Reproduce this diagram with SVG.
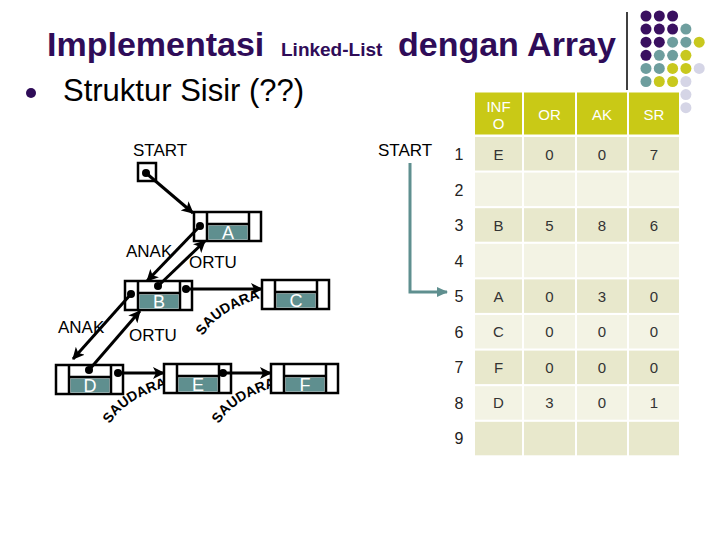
<svg xmlns="http://www.w3.org/2000/svg" width="720" height="540" viewBox="0 0 720 540">
<style>
  text { font-family: "Liberation Sans", Arial, sans-serif; }
  .title { font-weight: bold; fill: #2f0c58; }
  .lbl { font-size: 17px; fill: #000; }
  .sd { font-size: 14px; font-weight: bold; fill: #000; }
  .box { fill: #fff; stroke: #000; stroke-width: 2.5; }
  .div { stroke: #000; stroke-width: 2.5; }
  .val { fill: #5f8f8f; }
  .nl { font-size: 18px; fill: #fff; text-anchor: middle; }
  .con { stroke: #000; stroke-width: 3; fill: none; marker-end: url(#ah); }
  .dot { fill: #000; }
  .hd { fill: #c9c916; }
  .ro { fill: #e8e8cc; }
  .re { fill: #f3f3e4; }
  .ht { font-size: 15px; fill: #fff; text-anchor: middle; }
  .dt { font-size: 15px; fill: #333; text-anchor: middle; }
  .rn { font-size: 16px; fill: #222; text-anchor: middle; }
  .P { fill: #3a1060; } .T { fill: #6e9e9e; } .Y { fill: #c8c81e; } .L { fill: #d5d5e6; }
</style>
<defs>
  <marker id="ah" markerUnits="userSpaceOnUse" markerWidth="14" markerHeight="12" refX="11" refY="6" orient="auto">
    <path d="M0,0 L12,6 L0,12 L3,6 z" fill="#000"/>
  </marker>
  <marker id="aht" markerUnits="userSpaceOnUse" markerWidth="12" markerHeight="10" refX="10" refY="5" orient="auto">
    <path d="M0,0 L11,5 L0,10 z" fill="#5f8f8f"/>
  </marker>
  <path id="s1" d="M203,336 Q218,309 272,295"/>
  <path id="s2" d="M110,424 Q125,397 179,383"/>
  <path id="s3" d="M219,424 Q234,397 288,383"/>
</defs>

<!-- title -->
<text class="title" x="47" y="56" font-size="34">Implementasi</text>
<text class="title" x="281" y="56" font-size="19">Linked-List</text>
<text class="title" x="398" y="56" font-size="34">dengan Array</text>
<circle cx="31" cy="93" r="5" fill="#2f0c58"/>
<text x="63" y="101" font-size="31" fill="#000">Struktur Sisir (??)</text>

<!-- decoration -->
<line x1="627" y1="12" x2="627" y2="90" stroke="#000" stroke-width="1.5"/>
<g id="dots">
  <circle class="P" cx="646" cy="16" r="5.5"/><circle class="P" cx="659.3" cy="16" r="5.5"/><circle class="P" cx="672.6" cy="16" r="5.5"/>
  <circle class="P" cx="646" cy="29.1" r="5.5"/><circle class="P" cx="659.3" cy="29.1" r="5.5"/><circle class="P" cx="672.6" cy="29.1" r="5.5"/><circle class="T" cx="685.9" cy="29.1" r="5.5"/>
  <circle class="P" cx="646" cy="42.2" r="5.5"/><circle class="P" cx="659.3" cy="42.2" r="5.5"/><circle class="T" cx="672.6" cy="42.2" r="5.5"/><circle class="T" cx="685.9" cy="42.2" r="5.5"/><circle class="Y" cx="699.2" cy="42.2" r="5.5"/>
  <circle class="P" cx="646" cy="55.3" r="5.5"/><circle class="T" cx="659.3" cy="55.3" r="5.5"/><circle class="T" cx="672.6" cy="55.3" r="5.5"/><circle class="Y" cx="685.9" cy="55.3" r="5.5"/>
  <circle class="T" cx="646" cy="68.4" r="5.5"/><circle class="T" cx="659.3" cy="68.4" r="5.5"/><circle class="Y" cx="672.6" cy="68.4" r="5.5"/><circle class="Y" cx="685.9" cy="68.4" r="5.5"/><circle class="L" cx="699.2" cy="68.4" r="5.5"/>
  <circle class="T" cx="646" cy="81.5" r="5.5"/><circle class="Y" cx="659.3" cy="81.5" r="5.5"/><circle class="Y" cx="672.6" cy="81.5" r="5.5"/><circle class="L" cx="685.9" cy="81.5" r="5.5"/>
  <circle class="L" cx="685.9" cy="94.6" r="5.5"/>
  <circle class="L" cx="685.9" cy="107.7" r="5.5"/>
</g>

<!-- table -->
<g id="table">
  <rect class="hd" x="475" y="92.5" width="47" height="42"/>
  <rect class="hd" x="524" y="92.5" width="51" height="42"/>
  <rect class="hd" x="577" y="92.5" width="50" height="42"/>
  <rect class="hd" x="629" y="92.5" width="50" height="42"/>
  <text class="ht" x="498.5" y="112">INF</text>
  <text class="ht" x="498.5" y="129">O</text>
  <text class="ht" x="549.5" y="120">OR</text>
  <text class="ht" x="602" y="120">AK</text>
  <text class="ht" x="654" y="120">SR</text>

  <g class="ro"><rect x="475" y="137" width="47" height="33.5"/><rect x="524" y="137" width="51" height="33.5"/><rect x="577" y="137" width="50" height="33.5"/><rect x="629" y="137" width="50" height="33.5"/></g>
  <g class="re"><rect x="475" y="172.6" width="47" height="33.5"/><rect x="524" y="172.6" width="51" height="33.5"/><rect x="577" y="172.6" width="50" height="33.5"/><rect x="629" y="172.6" width="50" height="33.5"/></g>
  <g class="ro"><rect x="475" y="208.2" width="47" height="33.5"/><rect x="524" y="208.2" width="51" height="33.5"/><rect x="577" y="208.2" width="50" height="33.5"/><rect x="629" y="208.2" width="50" height="33.5"/></g>
  <g class="re"><rect x="475" y="243.8" width="47" height="33.5"/><rect x="524" y="243.8" width="51" height="33.5"/><rect x="577" y="243.8" width="50" height="33.5"/><rect x="629" y="243.8" width="50" height="33.5"/></g>
  <g class="ro"><rect x="475" y="279.4" width="47" height="33.5"/><rect x="524" y="279.4" width="51" height="33.5"/><rect x="577" y="279.4" width="50" height="33.5"/><rect x="629" y="279.4" width="50" height="33.5"/></g>
  <g class="re"><rect x="475" y="315" width="47" height="33.5"/><rect x="524" y="315" width="51" height="33.5"/><rect x="577" y="315" width="50" height="33.5"/><rect x="629" y="315" width="50" height="33.5"/></g>
  <g class="ro"><rect x="475" y="350.6" width="47" height="33.5"/><rect x="524" y="350.6" width="51" height="33.5"/><rect x="577" y="350.6" width="50" height="33.5"/><rect x="629" y="350.6" width="50" height="33.5"/></g>
  <g class="re"><rect x="475" y="386.2" width="47" height="33.5"/><rect x="524" y="386.2" width="51" height="33.5"/><rect x="577" y="386.2" width="50" height="33.5"/><rect x="629" y="386.2" width="50" height="33.5"/></g>
  <g class="ro"><rect x="475" y="421.8" width="47" height="33.5"/><rect x="524" y="421.8" width="51" height="33.5"/><rect x="577" y="421.8" width="50" height="33.5"/><rect x="629" y="421.8" width="50" height="33.5"/></g>

  <text class="rn" x="459" y="160">1</text>
  <text class="rn" x="459" y="195.5">2</text>
  <text class="rn" x="459" y="231">3</text>
  <text class="rn" x="459" y="266.5">4</text>
  <text class="rn" x="459" y="302">5</text>
  <text class="rn" x="459" y="337.5">6</text>
  <text class="rn" x="459" y="373">7</text>
  <text class="rn" x="459" y="408.5">8</text>
  <text class="rn" x="459" y="444">9</text>

  <text class="dt" x="498.5" y="159.5">E</text><text class="dt" x="549.5" y="159.5">0</text><text class="dt" x="602" y="159.5">0</text><text class="dt" x="654" y="159.5">7</text>
  <text class="dt" x="498.5" y="230.5">B</text><text class="dt" x="549.5" y="230.5">5</text><text class="dt" x="602" y="230.5">8</text><text class="dt" x="654" y="230.5">6</text>
  <text class="dt" x="498.5" y="301.5">A</text><text class="dt" x="549.5" y="301.5">0</text><text class="dt" x="602" y="301.5">3</text><text class="dt" x="654" y="301.5">0</text>
  <text class="dt" x="498.5" y="337">C</text><text class="dt" x="549.5" y="337">0</text><text class="dt" x="602" y="337">0</text><text class="dt" x="654" y="337">0</text>
  <text class="dt" x="498.5" y="372.5">F</text><text class="dt" x="549.5" y="372.5">0</text><text class="dt" x="602" y="372.5">0</text><text class="dt" x="654" y="372.5">0</text>
  <text class="dt" x="498.5" y="408">D</text><text class="dt" x="549.5" y="408">3</text><text class="dt" x="602" y="408">0</text><text class="dt" x="654" y="408">1</text>
</g>

<!-- labels -->
<text class="lbl" x="133" y="156" font-size="18">START</text>
<text class="lbl" x="378" y="156" font-size="18">START</text>
<text class="lbl" x="126" y="257">ANAK</text>
<text class="lbl" x="189" y="268">ORTU</text>
<text class="lbl" x="58" y="333">ANAK</text>
<text class="lbl" x="129" y="341">ORTU</text>
<text class="sd"><textPath href="#s1">SAUDARA</textPath></text>
<text class="sd"><textPath href="#s2">SAUDARA</textPath></text>
<text class="sd"><textPath href="#s3">SAUDARA</textPath></text>

<!-- nodes -->
<g id="start">
  <rect class="box" x="138" y="163" width="18" height="18"/>
</g>
<g id="nodeA" transform="translate(194,212)">
  <rect class="box" width="67" height="29"/>
  <rect class="val" x="14.5" y="13.5" width="39" height="14"/>
  <line class="div" x1="13" y1="0" x2="13" y2="29"/><line class="div" x1="55" y1="0" x2="55" y2="29"/><line class="div" x1="13" y1="12" x2="55" y2="12"/>
  <text class="nl" x="34" y="27">A</text>
</g>
<g id="nodeB" transform="translate(125,281)">
  <rect class="box" width="67" height="29"/>
  <rect class="val" x="14.5" y="13.5" width="39" height="14"/>
  <line class="div" x1="13" y1="0" x2="13" y2="29"/><line class="div" x1="55" y1="0" x2="55" y2="29"/><line class="div" x1="13" y1="12" x2="55" y2="12"/>
  <text class="nl" x="34" y="27">B</text>
</g>
<g id="nodeC" transform="translate(262,280)">
  <rect class="box" width="67" height="29"/>
  <rect class="val" x="14.5" y="13.5" width="39" height="14"/>
  <line class="div" x1="13" y1="0" x2="13" y2="29"/><line class="div" x1="55" y1="0" x2="55" y2="29"/><line class="div" x1="13" y1="12" x2="55" y2="12"/>
  <text class="nl" x="34" y="27">C</text>
</g>
<g id="nodeD" transform="translate(56,365)">
  <rect class="box" width="67" height="29"/>
  <rect class="val" x="14.5" y="13.5" width="39" height="14"/>
  <line class="div" x1="13" y1="0" x2="13" y2="29"/><line class="div" x1="55" y1="0" x2="55" y2="29"/><line class="div" x1="13" y1="12" x2="55" y2="12"/>
  <text class="nl" x="34" y="27">D</text>
</g>
<g id="nodeE" transform="translate(164,364)">
  <rect class="box" width="67" height="29"/>
  <rect class="val" x="14.5" y="13.5" width="39" height="14"/>
  <line class="div" x1="13" y1="0" x2="13" y2="29"/><line class="div" x1="55" y1="0" x2="55" y2="29"/><line class="div" x1="13" y1="12" x2="55" y2="12"/>
  <text class="nl" x="34" y="27">E</text>
</g>
<g id="nodeF" transform="translate(271,364)">
  <rect class="box" width="67" height="29"/>
  <rect class="val" x="14.5" y="13.5" width="39" height="14"/>
  <line class="div" x1="13" y1="0" x2="13" y2="29"/><line class="div" x1="55" y1="0" x2="55" y2="29"/><line class="div" x1="13" y1="12" x2="55" y2="12"/>
  <text class="nl" x="34" y="27">F</text>
</g>

<!-- connectors -->
<g id="connectors">
  <line class="con" x1="146" y1="173" x2="193" y2="213"/>
  <line class="con" x1="200" y1="226" x2="147" y2="281"/>
  <line class="con" x1="158" y1="286" x2="205" y2="241"/>
  <line class="con" x1="131" y1="294" x2="73" y2="359"/>
  <line class="con" x1="89" y1="370" x2="140" y2="311"/>
  <line class="con" x1="186" y1="289" x2="262" y2="289"/>
  <line class="con" x1="118" y1="373" x2="164" y2="373"/>
  <line class="con" x1="223" y1="373" x2="271" y2="373"/>
  <g class="dot">
    <circle cx="146" cy="173" r="4"/><circle cx="200" cy="226" r="4"/><circle cx="158" cy="286" r="4"/><circle cx="131" cy="294" r="4"/>
    <circle cx="89" cy="370" r="4"/><circle cx="186" cy="289" r="4"/><circle cx="118" cy="373" r="4"/><circle cx="223" cy="373" r="4"/>
  </g>
  <path d="M410,163 V292 H447" fill="none" stroke="#5f8f8f" stroke-width="3" marker-end="url(#aht)"/>
</g>
</svg>
